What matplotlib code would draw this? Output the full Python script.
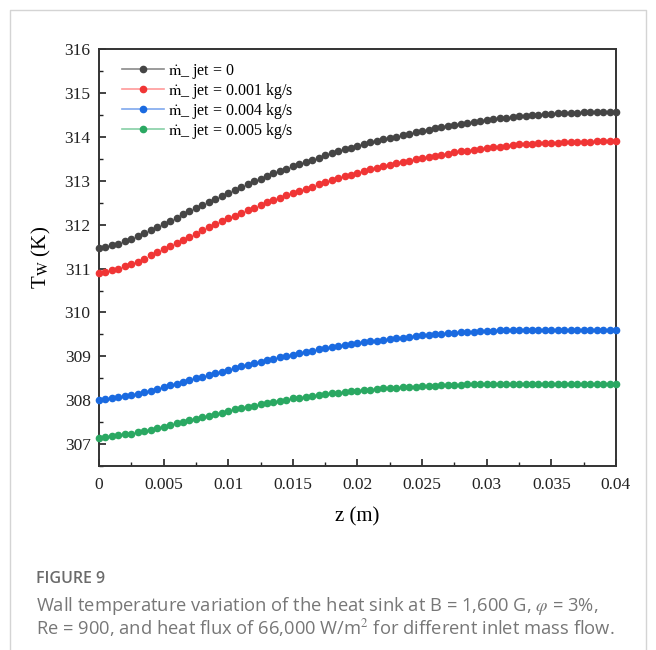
import numpy as np
import matplotlib
matplotlib.use("Agg")
import matplotlib.pyplot as plt
from matplotlib.lines import Line2D

plt.rcParams['font.family'] = ['Liberation Serif', 'DejaVu Serif']
plt.rcParams['mathtext.fontset'] = 'stix'

# z positions along the channel (m), one dot every 0.0005 m
z = np.arange(81) * 0.0005

tw_0 = [311.46, 311.49, 311.53, 311.57, 311.62, 311.68, 311.75, 311.81, 311.88, 311.95,
        312.02, 312.09, 312.16, 312.24, 312.31, 312.38, 312.45, 312.52, 312.59, 312.66,
        312.73, 312.80, 312.86, 312.92, 312.99, 313.05, 313.11, 313.17, 313.22, 313.28,
        313.33, 313.38, 313.43, 313.48, 313.53, 313.58, 313.63, 313.67, 313.72, 313.76,
        313.80, 313.84, 313.88, 313.91, 313.95, 313.98, 314.01, 314.05, 314.08, 314.11,
        314.14, 314.17, 314.20, 314.23, 314.25, 314.28, 314.30, 314.33, 314.35, 314.37,
        314.39, 314.41, 314.43, 314.44, 314.46, 314.47, 314.48, 314.50, 314.51, 314.52,
        314.53, 314.54, 314.54, 314.55, 314.55, 314.56, 314.56, 314.57, 314.57, 314.57,
        314.57]
tw_001 = [310.90, 310.93, 310.96, 311.00, 311.05, 311.10, 311.16, 311.23, 311.30, 311.37,
          311.44, 311.51, 311.58, 311.66, 311.73, 311.80, 311.87, 311.94, 312.01, 312.08,
          312.15, 312.21, 312.27, 312.33, 312.39, 312.45, 312.51, 312.56, 312.61, 312.67,
          312.72, 312.77, 312.82, 312.87, 312.92, 312.97, 313.01, 313.06, 313.10, 313.14,
          313.18, 313.22, 313.26, 313.30, 313.33, 313.37, 313.40, 313.43, 313.46, 313.49,
          313.52, 313.55, 313.57, 313.60, 313.62, 313.65, 313.67, 313.69, 313.71, 313.73,
          313.75, 313.77, 313.78, 313.80, 313.81, 313.83, 313.84, 313.85, 313.86, 313.86,
          313.87, 313.87, 313.88, 313.88, 313.89, 313.89, 313.89, 313.90, 313.90, 313.90,
          313.90]
tw_004 = [308.00, 308.02, 308.04, 308.07, 308.09, 308.12, 308.15, 308.19, 308.22, 308.26,
          308.30, 308.34, 308.38, 308.42, 308.46, 308.50, 308.54, 308.58, 308.61, 308.65,
          308.69, 308.73, 308.77, 308.80, 308.84, 308.88, 308.91, 308.95, 308.98, 309.01,
          309.04, 309.07, 309.10, 309.13, 309.16, 309.19, 309.21, 309.24, 309.26, 309.28,
          309.30, 309.32, 309.34, 309.36, 309.38, 309.40, 309.42, 309.43, 309.45, 309.46,
          309.48, 309.49, 309.50, 309.52, 309.53, 309.54, 309.55, 309.56, 309.56, 309.57,
          309.58, 309.58, 309.59, 309.59, 309.60, 309.60, 309.60, 309.60, 309.61, 309.61,
          309.61, 309.61, 309.61, 309.61, 309.61, 309.61, 309.61, 309.61, 309.61, 309.61,
          309.61]
tw_005 = [307.14, 307.16, 307.18, 307.20, 307.22, 307.24, 307.27, 307.30, 307.33, 307.37,
          307.40, 307.44, 307.47, 307.51, 307.54, 307.58, 307.62, 307.65, 307.69, 307.72,
          307.76, 307.79, 307.82, 307.85, 307.88, 307.91, 307.94, 307.96, 307.99, 308.01,
          308.04, 308.06, 308.08, 308.10, 308.12, 308.14, 308.16, 308.17, 308.19, 308.20,
          308.22, 308.23, 308.24, 308.26, 308.27, 308.28, 308.29, 308.30, 308.30, 308.31,
          308.32, 308.33, 308.33, 308.34, 308.34, 308.35, 308.35, 308.36, 308.36, 308.37,
          308.37, 308.37, 308.37, 308.38, 308.38, 308.38, 308.38, 308.38, 308.38, 308.38,
          308.38, 308.38, 308.38, 308.38, 308.38, 308.38, 308.38, 308.38, 308.38, 308.38,
          308.38]

labels = [r"$\dot{\mathrm{m}}$_ jet = 0", r"$\dot{\mathrm{m}}$_ jet = 0.001 kg/s",
          r"$\dot{\mathrm{m}}$_ jet = 0.004 kg/s", r"$\dot{\mathrm{m}}$_ jet = 0.005 kg/s"]
dot_colors = ["#454545", "#f03535", "#1a6ae0", "#2aa862"]
line_colors = ["#8a8a8a", "#ff9a9a", "#7fa8ee", "#86d0a6"]

xticks = [0, 0.005, 0.01, 0.015, 0.02, 0.025, 0.03, 0.035, 0.04]
xtick_labels = ["0", "0.005", "0.01", "0.015", "0.02", "0.025", "0.03", "0.035", "0.04"]
yticks = [307, 308, 309, 310, 311, 312, 313, 314, 315, 316]

fig = plt.figure(figsize=(6.56, 6.5), dpi=100)
ax = fig.add_axes([0.1509, 0.283, 0.7881, 0.6412])

for tw, c in zip([tw_0, tw_001, tw_004, tw_005], dot_colors):
    ax.plot(z, tw, linestyle="none", marker="o", markersize=4.5, color=c, clip_on=False, zorder=3)

ax.set_xlim(0, 0.04)
ax.set_ylim(306.5, 316)
ax.set_xticks(xticks)
ax.set_xticklabels(xtick_labels)
ax.set_xticks(np.arange(0.0025, 0.04, 0.005), minor=True)
ax.set_yticks(yticks)
ax.set_yticks(np.arange(306.5, 316, 1.0), minor=True)
ax.tick_params(axis="both", which="major", direction="in", length=5, width=1.2,
               labelsize=12.5, pad=8, colors="#222222")
ax.tick_params(axis="both", which="minor", direction="in", length=3, width=1.0, colors="#222222")
ax.tick_params(axis="y", pad=6)
for s in ax.spines.values():
    s.set_linewidth(1.4)
    s.set_color("#333333")

ax.set_xlabel("z (m)", fontsize=15, labelpad=10)
ax.set_ylabel(r"T$_{\mathrm{W}}$ (K)", fontsize=15, labelpad=8)

handles = [Line2D([], [], color=lc, linewidth=1.2, marker="o", markersize=4.5,
                  markerfacecolor=dc, markeredgecolor=dc)
           for lc, dc in zip(line_colors, dot_colors)]
ax.legend(handles, labels, loc="upper left", frameon=False, fontsize=11.5,
          handlelength=2.6, labelspacing=0.0, borderaxespad=0.4,
          bbox_to_anchor=(0.02, 1.0), handletextpad=0.3)

# page frame and caption
fig.add_artist(Line2D([0.015, 0.015, 0.984, 0.984], [0.0, 0.985, 0.985, 0.0],
                      transform=fig.transFigure, color="#d4d4d4", linewidth=1.0))
fig.text(0.055, 0.103, "FIGURE 9", fontsize=11.5, color="#6b6b6b",
         family=["Open Sans", "DejaVu Sans"], weight="semibold")
fig.text(0.055, 0.060, "Wall temperature variation of the heat sink at B = 1,600 G, $\\varphi$ = 3%,",
         fontsize=13.2, color="#777777", family=["Open Sans", "DejaVu Sans"])
fig.text(0.055, 0.024, "Re = 900, and heat flux of 66,000 W/m$^{2}$ for different inlet mass flow.",
         fontsize=13.2, color="#777777", family=["Open Sans", "DejaVu Sans"])

fig.savefig("out.png", dpi=100)
